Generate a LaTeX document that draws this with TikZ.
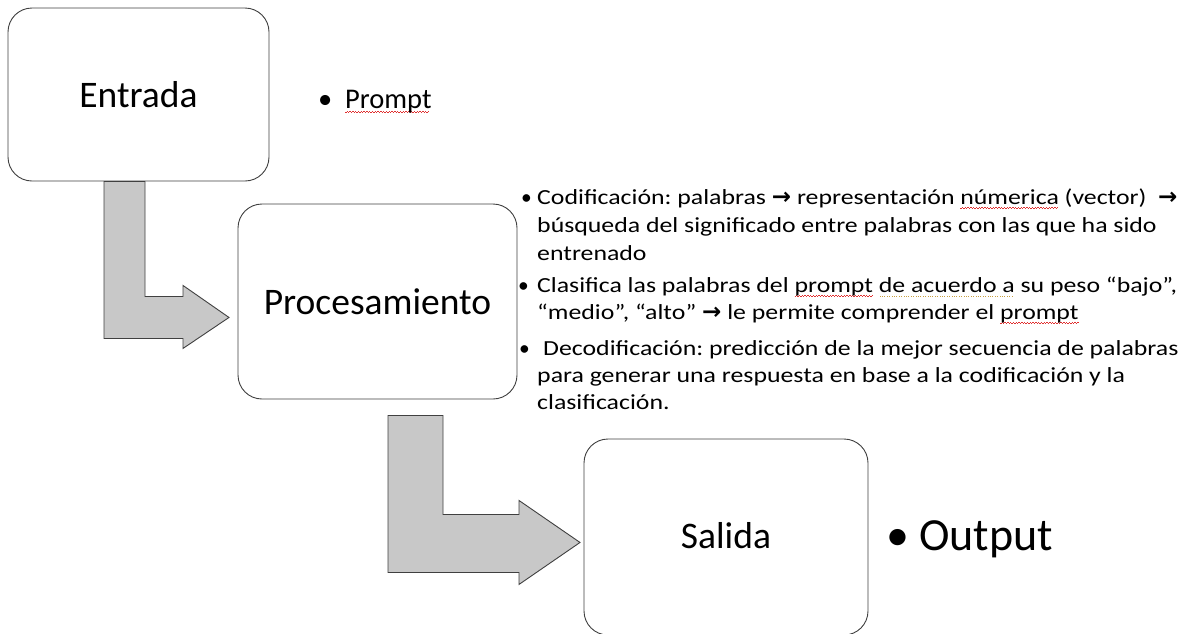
\documentclass[tikz,border=0pt]{standalone}
\usepackage{fontspec}
\setmainfont{Carlito}
\newfontfamily\listfont[FakeStretch=1.2]{Carlito}
\newfontfamily\arrfont{DejaVu Sans}
\definecolor{boxline}{HTML}{404040}
\definecolor{arrowfill}{HTML}{C8C8C8}
\definecolor{spellred}{HTML}{E03030}
\definecolor{gramgold}{HTML}{C8A040}
\newsavebox\wordbox
\newcommand\spellwave[1]{\sbox\wordbox{#1}\rlap{\textcolor{spellred}{\hbox to\wd\wordbox{\leaders\hbox{\rule[-4.6pt]{1.4pt}{0.7pt}\rule[-3.7pt]{1.4pt}{0.7pt}}\hfill}}}\usebox\wordbox}
\newcommand\gramdots[1]{\sbox\wordbox{#1}\rlap{\textcolor{gramgold}{\hbox to\wd\wordbox{\leaders\hbox to 2.4pt{\hss\rule[-4.4pt]{0.9pt}{0.9pt}\hss}\hfill}}}\usebox\wordbox}
\newcommand\rarr{{\arrfont\bfseries\fontsize{23}{23}\selectfont →}}
\frenchspacing
\begin{document}
\begin{tikzpicture}[x=1pt,y=-1pt,
  box/.style={draw=boxline, line width=0.9pt, rounded corners=24pt, fill=white, inner sep=0pt},
  blockarrow/.style={draw=boxline, fill=arrowfill, line width=0.9pt, line join=miter},
  bigtxt/.style={font=\fontsize{37.5}{40}\selectfont},
  ln/.style={anchor=base west, inner sep=0pt, font=\listfont\fontsize{21.5}{26}\selectfont},
  bul/.style={anchor=base west, inner sep=0pt, font=\fontsize{21.5}{26}\selectfont},
]
\useasboundingbox (0,0) rectangle (1194,633);

% boxes
\node[box, bigtxt, minimum width=261pt, minimum height=173pt] (entrada) at (138.5,94.5) {Entrada};
\node[box, bigtxt, minimum width=279pt, minimum height=195pt] (proc) at (377.5,301.5) {Procesamiento};
\node[box, minimum width=284pt, minimum height=196pt] (salida) at (726,537) {};
\node[bigtxt, anchor=base, inner sep=0pt] (salidat) at (726,548) {Salida};

% bent block arrows
\draw[blockarrow] ([shift={(-34.5,0)}]entrada.south) -- ++(41,0) -- ++(0,115) -- ++(38,0) -- ++(0,-11)
  -- ++(46,32) -- ++(-46,31) -- ++(0,-10) -- ++(-79,0) -- cycle;
\draw[blockarrow] ([shift={(10.5,16)}]proc.south) -- ++(55,0) -- ++(0,99) -- ++(76,0) -- ++(0,-14)
  -- ++(61,42) -- ++(-61,42) -- ++(0,-12) -- ++(-131,0) -- cycle;

% Entrada bullet
\node[anchor=base west, inner sep=0pt, font=\fontsize{28.5}{30}\selectfont] (bp) at (318,108) {•};
\node[anchor=base west, inner sep=0pt, font=\fontsize{28.5}{30}\selectfont] (prompt) at (345,108) {\spellwave{Prompt}};

% Procesamiento bullets
\node[bul] (b1) at (521,204) {•};
\node[ln] (l1) at (537,204) {Codificación: palabras \rarr{} representación \spellwave{númerica} (vector) \ \rarr};
\node[ln] (l2) at (537,232) {búsqueda del significado entre palabras con las que ha sido};
\node[ln] (l3) at (537,260) {entrenado};
\node[bul] (b2) at (518,292) {•};
\node[ln] (l4) at (537,292) {Clasifica las palabras del \spellwave{prompt} \gramdots{de acuerdo a} su peso “bajo”,};
\node[ln] (l5) at (537,319) {“medio”, “alto” \rarr{} le permite comprender el \spellwave{prompt}};
\node[bul] (b3) at (519,355) {•};
\node[ln] (l6) at (543,355) {Decodificación: predicción de la mejor secuencia de palabras};
\node[ln] (l7) at (537,382) {para generar una respuesta en base a la codificación y la};
\node[ln] (l8) at (537,409) {clasificación.};

% Salida bullet
\node[anchor=base west, inner sep=0pt, font=\fontsize{46}{48}\selectfont] (bo) at (886,550) {•};
\node[anchor=base west, inner sep=0pt, font=\fontsize{46}{48}\selectfont] (output) at (919,550) {Output};
\end{tikzpicture}
\end{document}
